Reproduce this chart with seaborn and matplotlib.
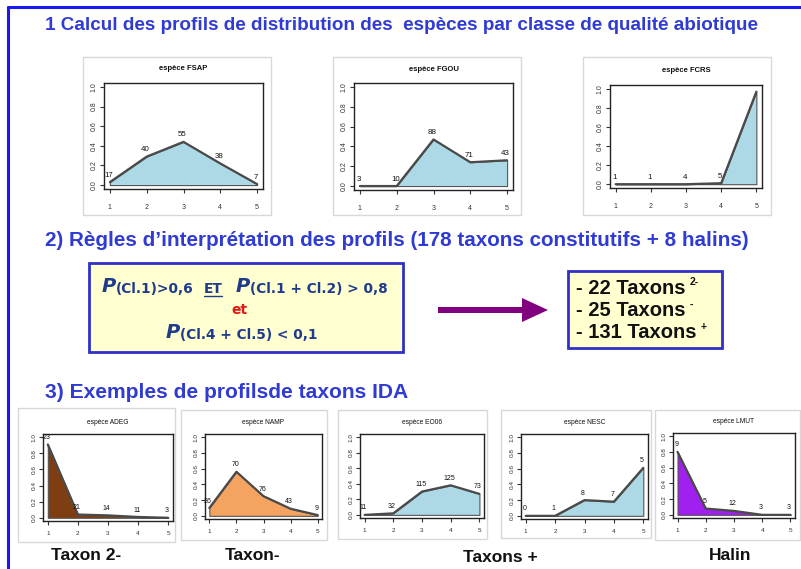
import matplotlib
matplotlib.use("Agg")
import matplotlib.pyplot as plt
import seaborn as sns
import pandas as pd
from matplotlib.patches import Rectangle, FancyArrow

sns.set_theme(style="white")
plt.rcParams['font.family'] = ['Liberation Sans', 'DejaVu Sans']

W, H = 801, 569

# ---------------- data ----------------
classes = [1, 2, 3, 4, 5]
ytick_vals = [0.0, 0.2, 0.4, 0.6, 0.8, 1.0]
ytick_labels = ["0.0", "0.2", "0.4", "0.6", "0.8", "1.0"]

fsap = [0.03, 0.29, 0.44, 0.22, 0.01]
fsap_n = ["17", "40", "55", "38", "7"]
fgou = [0.0, 0.0, 0.47, 0.24, 0.26]
fgou_n = ["3", "10", "88", "71", "43"]
fcrs = [0.0, 0.0, 0.0, 0.01, 0.97]
fcrs_n = ["1", "1", "4", "5", ""]

adeg = [0.91, 0.04, 0.03, 0.01, 0.0]
adeg_n = ["23", "21", "14", "11", "3"]
namp = [0.10, 0.56, 0.25, 0.09, 0.01]
namp_n = ["26", "70", "76", "43", "9"]
eo06 = [0.0, 0.02, 0.30, 0.38, 0.27]
eo06_n = ["11", "32", "115", "125", "73"]
nesc = [0.0, 0.0, 0.20, 0.18, 0.61]
nesc_n = ["0", "1", "8", "7", "5"]
lmut = [0.80, 0.08, 0.05, 0.0, 0.0]
lmut_n = ["9", "5", "12", "3", "3"]

heading1 = "1 Calcul des profils de distribution des  espèces par classe de qualité abiotique"
heading2 = "2) Règles d\u2019interprétation des profils (178 taxons constitutifs + 8 halins)"
heading3 = "3) Exemples de profilsde taxons IDA"
result_counts = ["22", "25", "131"]
result_sups = ["2-", "-", "+"]
bottom_labels = ["Taxon 2-", "Taxon-", "Taxons +", "Halin"]

BLUE = "#2F3BD3"
NAVY = "#1F3B8C"
YELLOW = "#FFFFD0"

fig = plt.figure(figsize=(W / 100, H / 100), dpi=100)
fig.patch.set_facecolor("white")
renderer = fig.canvas.get_renderer()


def rect(x0, y0, x1, y1):
    return [x0 / W, 1 - y1 / H, (x1 - x0) / W, (y1 - y0) / H]


def fx(x):
    return x / W


def fy(y):
    return 1 - y / H


def panel(x0, y0, x1, y1):
    fig.patches.append(Rectangle((fx(x0), fy(y1)), (x1 - x0) / W, (y1 - y0) / H,
                                 transform=fig.transFigure, facecolor="white",
                                 edgecolor="#D8D8D8", lw=1.0, zorder=-5))


def chain(x, y, pieces):
    """Place text pieces one after another; returns right edge in px."""
    for txt, kw, dy, gap in pieces:
        x += gap
        t = fig.text(fx(x), fy(y + dy), txt, ha="left", va="center", **kw)
        bb = t.get_window_extent(renderer)
        x += bb.width
    return x


def profile(box, values, labels, title, color, small=False):
    ax = fig.add_axes(rect(*box))
    df = pd.DataFrame({"classe": classes, "p": values})
    ax.fill_between(df["classe"], 0, df["p"], facecolor=color, edgecolor="#555555",
                    lw=0.8, zorder=2)
    sns.lineplot(data=df, x="classe", y="p", ax=ax, color="#4A4A4A", lw=1.6, zorder=3)
    ax.set_xlim(0.84, 5.16)
    ax.set_ylim(-0.04, 1.04)
    ax.set_xticks(classes)
    ax.set_xticklabels([str(c) for c in classes])
    ax.set_yticks(ytick_vals)
    ax.set_yticklabels(ytick_labels, rotation=90, va="center")
    fs = 4.6 if small else 5
    ax.tick_params(axis="both", which="both", direction="out", length=3, width=0.8,
                   labelsize=fs, colors="#333333", pad=1.5, left=True, bottom=True)
    ax.tick_params(axis="x", pad=4 if small else 8)
    ax.set_xlabel("")
    ax.set_ylabel("")
    for s in ax.spines.values():
        s.set_color("#222222")
        s.set_linewidth(1.0)
    ax.set_facecolor("white")
    for xv, yv, lab in zip(classes, values, labels):
        if lab:
            ax.annotate(lab, (xv, yv), xytext=(-1, 2.5), textcoords="offset points",
                        ha="center", va="bottom", fontsize=5.7 if not small else 5,
                        color="#111111", zorder=4)
    ax.set_title(title, fontsize=5.5 if not small else 4.8,
                 fontweight="bold" if not small else "normal", color="#111111",
                 pad=9 if not small else 7)
    return ax


# outer blue frame (left and top)
fig.add_artist(plt.Line2D([fx(8), fx(8)], [fy(7), fy(569)], transform=fig.transFigure,
                          color="#1A1AF0", lw=2.2))
fig.add_artist(plt.Line2D([fx(8), fx(801)], [fy(7), fy(7)], transform=fig.transFigure,
                          color="#1A1AF0", lw=2.2))

# headings
fig.text(fx(45), fy(25), heading1, fontsize=13.6, fontweight="bold", color=BLUE,
         ha="left", va="center")
fig.text(fx(45), fy(240), heading2, fontsize=14.85, fontweight="bold", color=BLUE,
         ha="left", va="center")
fig.text(fx(45), fy(393), heading3, fontsize=15.1, fontweight="bold", color=BLUE,
         ha="left", va="center")

# top panels
panel(83, 57, 271, 215)
panel(333, 57, 521, 215)
panel(583, 57, 771, 215)
profile((104, 83, 263, 189), fsap, fsap_n, "espèce FSAP", "#ADD8E6")
profile((354, 83, 513, 190), fgou, fgou_n, "espèce FGOU", "#ADD8E6")
profile((610, 85, 762, 188), fcrs, fcrs_n, "espèce FCRS", "#ADD8E6")

# bottom panels
panel(18, 408, 175, 542)
panel(181, 410, 327, 540)
panel(338, 410, 487, 539)
panel(501, 410, 651, 538)
panel(655, 410, 800, 540)
profile((43, 434, 173, 521), adeg, adeg_n, "espèce ADEG", "#7E3E12", small=True)
profile((205, 434, 322, 519), namp, namp_n, "espèce NAMP", "#F4A460", small=True)
profile((360, 434, 484, 518), eo06, eo06_n, "espèce EO06", "#ADD8E6", small=True)
profile((521, 434, 648, 519), nesc, nesc_n, "espèce NESC", "#ADD8E6", small=True)
profile((673, 433, 795, 518), lmut, lmut_n, "espèce LMUT", "#A020F0", small=True)

# bottom labels
for (xc, yc), lab in zip([(86, 555), (253, 555), (500, 557), (730, 555)], bottom_labels):
    fig.text(fx(xc), fy(yc), lab, fontsize=12.5, fontweight="bold", color="#111111",
             ha="center", va="center")

# rule box
fig.patches.append(Rectangle((fx(89), fy(352)), (403 - 89) / W, (352 - 263) / H,
                             transform=fig.transFigure, facecolor=YELLOW,
                             edgecolor="#3030C8", lw=2.0, zorder=-4))
DV = ['DejaVu Sans']
big = dict(fontsize=14, fontweight="bold", fontstyle="italic", color=NAVY, family=DV)
sm = dict(fontsize=9.9, fontweight="bold", color=NAVY, family=DV)
chain(102, 287, [("P", big, 0, 0), ("(Cl.1)>0,6", sm, 2, 0)])
chain(204, 289, [("ET", sm, 0, 0)])
fig.add_artist(plt.Line2D([fx(204), fx(222)], [fy(296), fy(296)],
                          transform=fig.transFigure, color=NAVY, lw=1))
chain(236, 287, [("P", big, 0, 0), ("(Cl.1 + Cl.2) > 0,8", sm, 2, 0)])
fig.text(fx(239), fy(310), "et", fontsize=10, fontweight="bold", color="#E01818",
         ha="center", va="center", family=DV)
chain(166, 333, [("P", big, 0, 0), ("(Cl.4 + Cl.5) < 0,1", sm, 2, 0)])

# arrow
fig.add_artist(FancyArrow(fx(438), fy(310), fx(548) - fx(438), 0, width=6 / H,
                          head_width=24 / H, head_length=26 / W,
                          length_includes_head=True, transform=fig.transFigure,
                          color="#800080", lw=0))

# result box
fig.patches.append(Rectangle((fx(568), fy(348)), (722 - 568) / W, (348 - 271) / H,
                             transform=fig.transFigure, facecolor=YELLOW,
                             edgecolor="#3030C8", lw=2.0, zorder=-4))
rb = dict(fontsize=14.5, fontweight="bold", color="#111111")
sb = dict(fontsize=7.5, fontweight="bold", color="#111111")
for i, (cnt, sup) in enumerate(zip(result_counts, result_sups)):
    yc = 288 + i * 22.5
    chain(576, yc, [(f"- {cnt} Taxons", rb, 0, 0), (sup, sb, -6, 4)])

fig.savefig("out.png", dpi=100, facecolor="white")
